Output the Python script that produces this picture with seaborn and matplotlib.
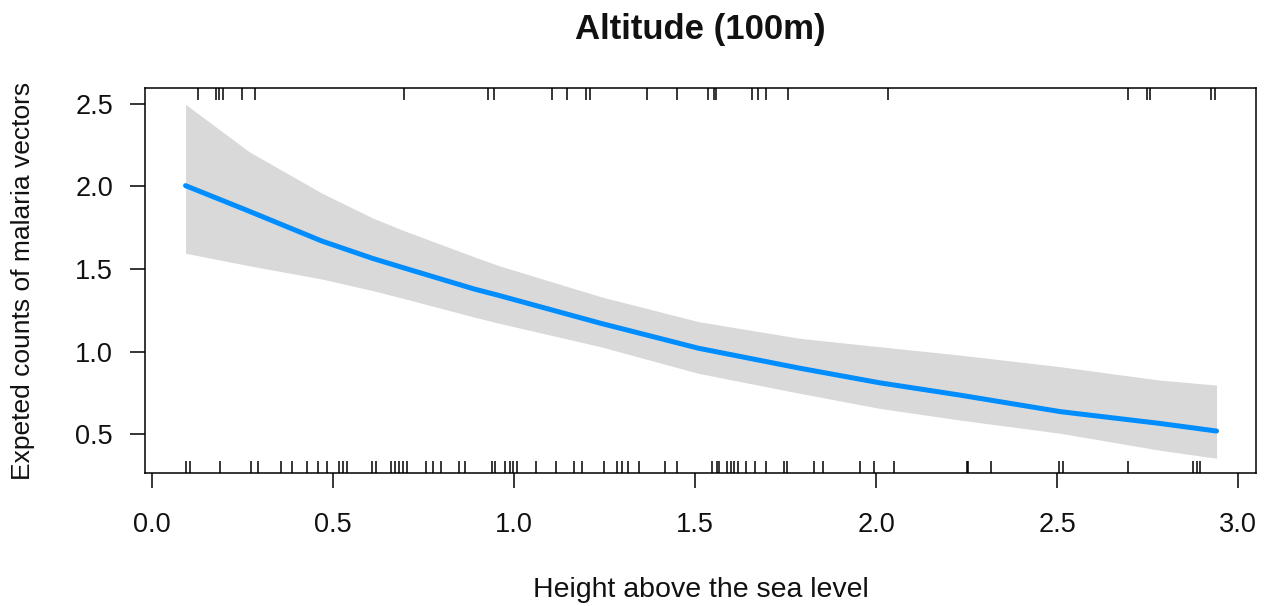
import numpy as np
import pandas as pd
import matplotlib
matplotlib.use("Agg")
import matplotlib.pyplot as plt
import matplotlib.transforms as mtransforms
import seaborn as sns

# ---- data ----
altitude = [0.094, 0.27, 0.47, 0.61, 0.70, 0.89, 0.96, 1.24, 1.51, 1.79,
            2.01, 2.23, 2.51, 2.78, 2.94]
fit = [2.005, 1.85, 1.67, 1.565, 1.505, 1.38, 1.34, 1.172, 1.021, 0.900,
       0.812, 0.738, 0.637, 0.567, 0.520]
upper = [2.497, 2.21, 1.96, 1.81, 1.73, 1.575, 1.52, 1.333, 1.182, 1.081,
         1.030, 0.980, 0.909, 0.829, 0.798]
lower = [1.596, 1.52, 1.44, 1.37, 1.32, 1.21, 1.172, 1.030, 0.869, 0.748,
         0.657, 0.587, 0.506, 0.405, 0.355]

rug_bottom = [0.095, 0.106, 0.189, 0.275, 0.294, 0.357, 0.387, 0.428, 0.459,
              0.485, 0.518, 0.528, 0.539, 0.609, 0.620, 0.660, 0.672, 0.683,
              0.695, 0.704, 0.758, 0.778, 0.799, 0.850, 0.865, 0.939, 0.948,
              0.976, 0.990, 0.999, 1.008, 1.061, 1.116, 1.167, 1.187, 1.250,
              1.286, 1.298, 1.316, 1.346, 1.417, 1.450, 1.546, 1.560, 1.566,
              1.589, 1.599, 1.608, 1.620, 1.641, 1.666, 1.696, 1.746, 1.755,
              1.829, 1.854, 1.955, 1.995, 2.050, 2.250, 2.254, 2.317, 2.505,
              2.515, 2.696, 2.876, 2.885, 2.894]
rug_top = [0.128, 0.178, 0.187, 0.198, 0.251, 0.286, 0.698, 0.928, 0.946,
           1.106, 1.148, 1.199, 1.210, 1.368, 1.450, 1.537, 1.553, 1.557,
           1.657, 1.675, 1.696, 1.758, 2.032, 2.696, 2.747, 2.756, 2.926,
           2.935]

x_ticks = [0.0, 0.5, 1.0, 1.5, 2.0, 2.5, 3.0]
y_ticks = [0.5, 1.0, 1.5, 2.0, 2.5]

title = "Altitude (100m)"
xlabel = "Height above the sea level"
ylabel = "Expeted counts of malaria vectors"

df = pd.DataFrame({"altitude": altitude, "fit": fit,
                   "upper": upper, "lower": lower})

sns.set_theme(style="ticks")
plt.rcParams['font.family'] = ['Liberation Sans', 'DejaVu Sans']

fig = plt.figure(figsize=(12.74, 6.06), dpi=100)
ax = fig.add_axes([145 / 1274, 1 - 473 / 606, (1256 - 145) / 1274, (473 - 88) / 606])

ax.fill_between(df["altitude"], df["lower"], df["upper"],
                color="#D9D9D9", linewidth=0, zorder=1)
sns.lineplot(data=df, x="altitude", y="fit", ax=ax, color="#008DFF",
             linewidth=3.6, zorder=3, legend=False)

# rugs
sns.rugplot(x=rug_bottom, ax=ax, height=12 / 385, color="black",
            linewidth=1.1, expand_margins=False)
trans = mtransforms.blended_transform_factory(ax.transData, ax.transAxes)
ax.vlines(rug_top, 1 - 12 / 385, 1, transform=trans, color="black",
          linewidth=1.1)

ax.set_xlim(-0.018, 3.049)
ax.set_ylim(0.266, 2.596)
ax.set_xticks(x_ticks)
ax.set_yticks(y_ticks)
ax.set_xticklabels([f"{v:.1f}" for v in x_ticks])
ax.set_yticklabels([f"{v:.1f}" for v in y_ticks])

for s in ax.spines.values():
    s.set_visible(True)
    s.set_color("black")
    s.set_linewidth(1.1)

ax.tick_params(axis="both", direction="out", length=11, width=1.1,
               colors="black", labelsize=19.5, labelcolor="#111111")
ax.tick_params(axis="x", pad=17)
ax.tick_params(axis="y", pad=12)

ax.set_xlabel(xlabel, fontsize=20.5, color="#111111", labelpad=0)
ax.xaxis.set_label_coords(0.5, -0.27)
ax.set_ylabel(ylabel, fontsize=19, color="#111111")
ax.yaxis.set_label_coords(-0.099, 0.5)
ax.set_title(title, fontsize=25, fontweight="bold", pad=35, color="#111111")

fig.savefig("out.png", dpi=100, facecolor="white")
